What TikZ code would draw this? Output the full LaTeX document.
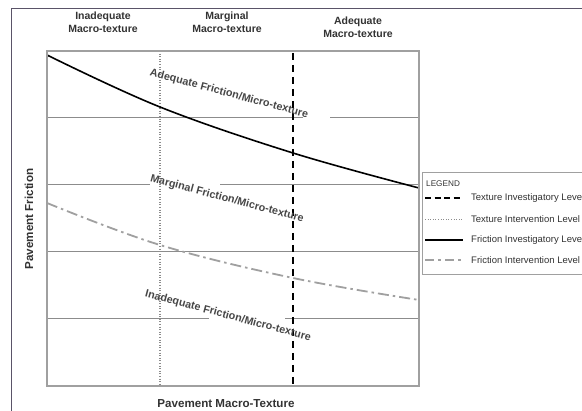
\documentclass[tikz,border=0pt]{standalone}
\usepackage{fontspec}
\setmainfont{Liberation Sans}
\definecolor{framec}{HTML}{5A5468}
\definecolor{txtc}{HTML}{333333}
\definecolor{gridc}{HTML}{8C8C8C}
\definecolor{boxc}{HTML}{A0A0A0}
\begin{document}
\begin{tikzpicture}[x=1pt,y=-1pt,
  hdr/.style={font=\bfseries\fontsize{10.5}{13}\selectfont, text=txtc, align=center, inner sep=0pt},
  axlab/.style={font=\bfseries\fontsize{11.6}{13}\selectfont, text=txtc, inner sep=0pt},
  inlab/.style={font=\bfseries\fontsize{10.8}{12}\selectfont, text=txtc!90, inner sep=0pt, rotate=-15},
  legtxt/.style={font=\fontsize{9.5}{11}\selectfont, text=txtc, anchor=west, inner sep=0pt},
  leghd/.style={font=\fontsize{8.2}{9}\selectfont, text=txtc, anchor=west, inner sep=0pt},
  gridln/.style={draw=gridc, line width=1pt},
  plotbox/.style={draw=boxc, line width=1.5pt},
  texinv/.style={draw=black, line width=2.6pt, dash pattern=on 7pt off 5pt},
  texint/.style={draw=gridc, line width=1.1pt, dash pattern=on 1pt off 1.6pt},
  fricinv/.style={draw=black, line width=1.6pt},
  fricint/.style={draw=boxc, line width=1.8pt, dash pattern=on 11pt off 4pt on 2.5pt off 4pt},
  legbox/.style={draw=boxc, line width=1pt, fill=white}
]
\useasboundingbox (0,0) rectangle (582,411);
\clip (0,0) rectangle (582,411);
\fill[white] (0,0) rectangle (582,411);
% outer frame
\draw[framec, line width=1pt] (11,411) -- (11,9) -- (590,9);
% header labels
\node[hdr] (hIn) at (103,22) {Inadequate\\Macro-texture};
\node[hdr] (hMa) at (227,22) {Marginal\\Macro-texture};
\node[hdr] (hAd) at (358,27) {Adequate\\Macro-texture};
% axis labels
\node[axlab, rotate=90] (yl) at (29,219) {Pavement Friction};
\node[axlab] (xl) at (226,404) {Pavement Macro-Texture};
% grid lines
\draw[gridln] (47,118) -- (303,118) (330,118) -- (419,118);
\draw[gridln] (47,185) -- (150,185) (220,185) -- (419,185);
\draw[gridln] (47,252) -- (419,252);
\draw[gridln] (47,319) -- (209,319) (285,319) -- (419,319);
% vertical levels
\draw[texint] (160,51) -- (160,386);
\draw[texinv] (293,53) -- (293,386);
% friction curves
\draw[fricinv] plot[smooth, tension=0.6] coordinates {(47,55) (160,107) (293,153) (419,188)};
\draw[fricint] plot[smooth, tension=0.6] coordinates {(47,203) (160,245) (293,278) (419,300)};
% plot box
\draw[plotbox] (47,51) rectangle (419,386);
% in-plot labels
\node[inlab] (lAd) at (229,94) {Adequate Friction/Micro-texture};
\node[inlab] (lMa) at (227,199) {Marginal Friction/Micro-texture};
\node[inlab] (lIn) at (228,316) {Inadequate Friction/Micro-texture};
% legend
\draw[legbox] (422,173) rectangle (620,275);
\node[leghd] (lg) at (426,184) {LEGEND};
\draw[texinv, line width=2pt, dash pattern=on 6pt off 3.5pt] (425,198) -- (463,198);
\draw[texint, line width=0.8pt] (425,219) -- (463,219);
\draw[fricinv] (425,240) -- (463,240);
\draw[fricint, line width=1.6pt, dash pattern=on 9pt off 4pt on 3pt off 4pt] (425,260) -- (463,260);
\node[legtxt] (t1) at (471,198) {Texture Investigatory Level};
\node[legtxt] (t2) at (471,219) {Texture Intervention Level};
\node[legtxt] (t3) at (471,240) {Friction Investigatory Level};
\node[legtxt] (t4) at (471,260) {Friction Intervention Level};
\end{tikzpicture}
\end{document}
